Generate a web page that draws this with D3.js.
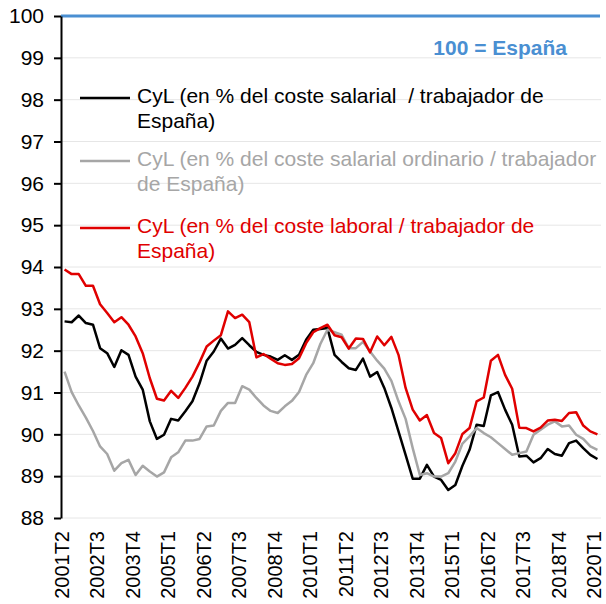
<!DOCTYPE html>
<html>
<head>
<meta charset="utf-8">
<script src="https://cdn.jsdelivr.net/npm/d3@7"></script>
<style>
  body { margin: 0; background: #fff; }
  text { font-family: Arial, "Liberation Sans", sans-serif; }
</style>
</head>
<body>
<div class="chart"></div>
<script>
'use strict';
(function() {
  // Quarters 2001T2 .. 2020T1
  var quarters = [];
  for (var y = 2001; y <= 2020; y++) {
    for (var q = 1; q <= 4; q++) {
      if ((y === 2001 && q < 2) || (y === 2020 && q > 1)) continue;
      quarters.push(y + 'T' + q);
    }
  }

  var tickLabels = ['2001T2', '2002T3', '2003T4', '2005T1', '2006T2', '2007T3', '2008T4', '2010T1',
    '2011T2', '2012T3', '2013T4', '2015T1', '2016T2', '2017T3', '2018T4', '2020T1'];
  var yTicks = [88, 89, 90, 91, 92, 93, 94, 95, 96, 97, 98, 99, 100];

  // coste salarial / trabajador
  var salarial = [92.70, 92.68, 92.84, 92.66, 92.62, 92.06, 91.94, 91.61, 92.01, 91.90,
    91.38, 91.07, 90.31, 89.89, 89.99, 90.37, 90.33, 90.55, 90.79, 91.22,
    91.76, 91.98, 92.29, 92.05, 92.14, 92.30, 92.13, 91.97, 91.90, 91.86,
    91.78, 91.89, 91.78, 91.90, 92.26, 92.50, 92.52, 92.54, 91.90, 91.73,
    91.58, 91.54, 91.81, 91.38, 91.49, 91.11, 90.63, 90.07, 89.51, 88.94,
    88.94, 89.27, 88.99, 88.91, 88.67, 88.79, 89.25, 89.63, 90.23, 90.20,
    90.93, 91.01, 90.59, 90.23, 89.47, 89.49, 89.33, 89.43, 89.65, 89.53,
    89.49, 89.79, 89.85, 89.67, 89.51, 89.41];

  // coste salarial ordinario / trabajador
  var ordinario = [91.50, 91.01, 90.69, 90.40, 90.08, 89.71, 89.53, 89.13, 89.31, 89.39,
    89.03, 89.25, 89.11, 88.99, 89.09, 89.45, 89.57, 89.85, 89.85, 89.89,
    90.19, 90.21, 90.56, 90.75, 90.75, 91.15, 91.07, 90.87, 90.69, 90.56,
    90.51, 90.67, 90.80, 91.01, 91.42, 91.70, 92.16, 92.50, 92.44, 92.38,
    92.06, 92.06, 92.21, 91.98, 91.76, 91.57, 91.28, 90.79, 90.37, 89.67,
    89.03, 89.07, 88.99, 88.99, 89.07, 89.35, 89.78, 89.95, 90.15, 90.03,
    89.93, 89.79, 89.65, 89.51, 89.55, 89.59, 89.99, 90.11, 90.23, 90.31,
    90.19, 90.21, 89.99, 89.89, 89.71, 89.63];

  // coste laboral / trabajador
  var laboral = [93.94, 93.83, 93.83, 93.55, 93.55, 93.11, 92.90, 92.68, 92.80, 92.62,
    92.34, 91.94, 91.34, 90.85, 90.81, 91.04, 90.87, 91.11, 91.38, 91.72,
    92.10, 92.24, 92.37, 92.94, 92.78, 92.86, 92.68, 91.84, 91.92, 91.81,
    91.70, 91.66, 91.68, 91.82, 92.18, 92.44, 92.54, 92.62, 92.37, 92.32,
    92.05, 92.29, 92.28, 91.96, 92.34, 92.13, 92.33, 91.90, 91.11, 90.59,
    90.33, 90.46, 90.03, 89.91, 89.31, 89.55, 90.01, 90.15, 90.79, 90.88,
    91.76, 91.90, 91.42, 91.09, 90.16, 90.15, 90.07, 90.16, 90.33, 90.35,
    90.32, 90.51, 90.53, 90.21, 90.07, 90.00];

  var series = [
    {values: salarial, color: '#000000',
      lines: ['CyL (en % del coste salarial  / trabajador de', 'España)']},
    {values: ordinario, color: '#a6a6a6',
      lines: ['CyL (en % del coste salarial ordinario / trabajador', 'de España)']},
    {values: laboral, color: '#e00000',
      lines: ['CyL (en % del coste laboral / trabajador de', 'España)']}
  ];

  var BLUE = '#4a8fd2';

  //Width and height
  var w = 606;
  var h = 604;
  var left = 61;
  var right = 601;
  var top = 16;
  var bottom = 518;

  var svg = d3.select('.chart')
    .append('svg')
    .attr('width', w)
    .attr('height', h);

  var xScale = d3.scalePoint()
    .domain(quarters)
    .range([left, right])
    .padding(0.5);

  var yScale = d3.scaleLinear()
    .domain([88, 100])
    .range([bottom, top]);

  // Grid lines
  svg.append('g')
    .selectAll('line')
    .data(yTicks.slice(0, -1))
    .enter()
    .append('line')
    .attr('x1', left)
    .attr('x2', right)
    .attr('y1', function(d) { return yScale(d); })
    .attr('y2', function(d) { return yScale(d); })
    .attr('stroke', '#e6e6e6')
    .attr('stroke-width', 1);

  // 100 = España reference line
  svg.append('line')
    .attr('x1', left)
    .attr('x2', right - 1)
    .attr('y1', yScale(100))
    .attr('y2', yScale(100))
    .attr('stroke', BLUE)
    .attr('stroke-width', 3);

  svg.append('text')
    .attr('x', 567)
    .attr('y', 55)
    .attr('text-anchor', 'end')
    .attr('font-size', '21px')
    .attr('font-weight', 'bold')
    .attr('fill', BLUE)
    .text('100 = España');

  // Y axis
  var yAxis = d3.axisLeft(yScale)
    .tickValues(yTicks)
    .tickFormat(d3.format('d'))
    .tickSizeInner(7)
    .tickSizeOuter(0)
    .tickPadding(10);

  var ag = svg.append('g')
    .attr('transform', 'translate(' + left + ',0)')
    .call(yAxis);
  ag.select('.domain').attr('stroke', '#000').attr('stroke-width', 2);
  ag.selectAll('.tick line').attr('stroke', '#000').attr('stroke-width', 2);
  ag.selectAll('.tick text')
    .attr('font-size', '21px')
    .attr('font-family', 'Arial, "Liberation Sans", sans-serif')
    .attr('fill', '#000');

  // X labels
  svg.append('g')
    .selectAll('text')
    .data(tickLabels)
    .enter()
    .append('text')
    .attr('transform', function(d) {
      return 'translate(' + xScale(d) + ',531) rotate(-90)';
    })
    .attr('dy', '0.2em')
    .attr('text-anchor', 'end')
    .attr('font-size', '20px')
    .attr('fill', '#000')
    .text(function(d) { return d; });

  // Lines
  var line = d3.line()
    .x(function(d, i) { return xScale(quarters[i]); })
    .y(function(d) { return yScale(d); });

  svg.append('g')
    .selectAll('path')
    .data(series)
    .enter()
    .append('path')
    .attr('d', function(d) { return line(d.values); })
    .attr('fill', 'none')
    .attr('stroke', function(d) { return d.color; })
    .attr('stroke-width', 2.5)
    .attr('stroke-linejoin', 'round');

  // Legend
  var legendY = [98, 161, 228];
  var lg = svg.append('g')
    .selectAll('g')
    .data(series)
    .enter()
    .append('g')
    .attr('transform', function(d, i) { return 'translate(0,' + legendY[i] + ')'; });

  lg.append('line')
    .attr('x1', 80)
    .attr('x2', 130)
    .attr('stroke', function(d) { return d.color; })
    .attr('stroke-width', 2.5);

  lg.each(function(d) {
    var t = d3.select(this).append('text')
      .attr('font-size', '21px')
      .attr('fill', d.color)
      .style('white-space', 'pre');
    d.lines.forEach(function(s, k) {
      t.append('tspan')
        .attr('x', 137)
        .attr('y', 5 + k * 25)
        .text(s);
    });
  });
})();
</script>
</body>
</html>
